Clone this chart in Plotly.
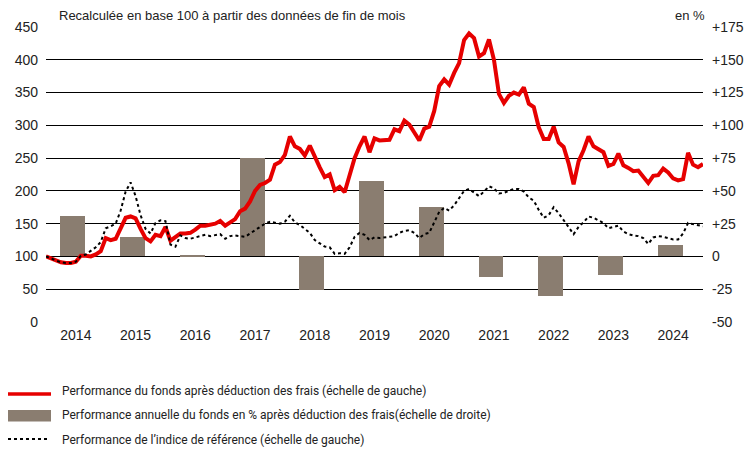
import plotly.graph_objects as go

# ---- data ----
fund = [100, 97, 94, 91, 90, 90, 92, 101, 101, 100, 103, 108,
        128, 125, 127, 144, 159, 161, 158, 142, 128, 123, 133, 131,
        145, 124, 130, 135, 135, 136, 141, 147, 147, 148, 150, 154,
        147, 152, 157, 169, 173, 184, 200, 209, 212, 217, 240, 244,
        255, 283, 268, 264, 254, 269, 251, 236, 221, 225, 201, 206,
        198, 226, 250, 268, 283, 259, 280, 277, 278, 278, 294, 291,
        307, 301, 289, 277, 295, 298, 322, 360, 370, 362, 380, 395,
        430, 440, 433, 405, 410, 431, 400, 348, 334, 345, 350, 347,
        358, 333, 328, 297, 279, 279, 298, 274, 267, 242, 210, 245,
        262, 283, 268, 263, 259, 238, 241, 257, 239, 235, 230, 231,
        222, 212, 223, 224, 234, 228, 219, 216, 218, 258, 240, 236,
        241]

benchmark = [100, 97, 94, 91, 90, 90, 92, 101, 103, 108, 114, 122,
             143, 146, 150, 170, 199, 213, 192, 163, 142, 135, 151, 155,
             154, 118, 115, 132, 128, 127, 129, 130, 133, 131, 132, 134,
             127, 131, 132, 131, 130, 135, 140, 146, 150, 153, 152, 150,
             153, 162, 152, 148, 142, 136, 125, 120, 115, 114, 104, 105,
             104, 114, 130, 136, 133, 125, 129, 128, 129, 129, 131, 136,
             139, 140, 136, 128, 134, 136, 151, 168, 174, 170, 178, 190,
             200, 203, 198, 192, 199, 207, 204, 196, 197, 200, 203, 203,
             199, 190, 185, 171, 159, 163, 175, 166, 155, 143, 134, 145,
             152, 161, 159, 155, 151, 143, 145, 147, 138, 134, 132, 131,
             128, 119, 129, 131, 130, 128, 126, 126, 135, 151, 149, 147,
             146]

years = ["2014", "2015", "2016", "2017", "2018", "2019", "2020", "2021",
         "2022", "2023", "2024"]
annual_perf = [30.5, 15, 1.3, 75, -25.7, 57.8, 38, -16, -29.8, -14.5, 9]

left_ticks = [0, 50, 100, 150, 200, 250, 300, 350, 400, 450]
right_ticks = [-50, -25, 0, 25, 50, 75, 100, 125, 150, 175]
right_ticktext = [("+%d" % v) if v > 0 else str(v) for v in right_ticks]

legend_labels = [
    "Performance du fonds après déduction des frais (échelle de gauche)",
    "Performance annuelle du fonds en % après déduction des frais(échelle de droite)",
    "Performance de l\u2019indice de référence (échelle de gauche)",
]
subtitle = "Recalculée en base 100 à partir des données de fin de mois"
unit_label = "en %"

# ---- styling ----
RED = "#e60000"
BAR = "#8a7d70"
TXT = "#222222"
FONT = "Liberation Sans, Arial, sans-serif"
LEGFONT = "Roboto, Liberation Sans, Arial, sans-serif"

W, H = 755, 452
ML, MR, MT, MB = 46, 52, 27, 130
PW, PH = W - ML - MR, H - MT - MB


def px(x):
    return (x - ML) / PW


def py(y):
    return (H - MB - y) / PH


months = list(range(len(fund)))
bar_x = [12 * i + 5.4 for i in range(len(years))]
year_ticks = [12 * i + 6.0 for i in range(len(years))]

fig = go.Figure()
# bars on the primary (right-hand, %) axis so that the lines are drawn above
fig.add_trace(go.Bar(x=bar_x, y=annual_perf, width=5, marker_color=BAR,
                     marker_line_width=0, yaxis="y", showlegend=False))
fig.add_trace(go.Scatter(x=months, y=fund, mode="lines", yaxis="y2",
                         line=dict(color=RED, width=4), showlegend=False))
fig.add_trace(go.Scatter(x=months, y=benchmark, mode="lines", yaxis="y2",
                         line=dict(color="#000000", width=2, dash="dot"),
                         showlegend=False))

fig.update_layout(
    width=W, height=H,
    margin=dict(l=ML, r=MR, t=MT, b=MB),
    paper_bgcolor="white", plot_bgcolor="white",
    font=dict(family=FONT, size=14, color=TXT),
    bargap=0,
    xaxis=dict(range=[0, len(fund) - 1], tickvals=year_ticks, ticktext=years,
               showgrid=False, zeroline=False, showline=False, ticks="",
               tickfont=dict(size=14, color=TXT), ticklabelstandoff=3),
    yaxis=dict(range=[-50, 175], tickvals=right_ticks, ticktext=right_ticktext,
               side="right", showgrid=True, gridcolor="#000000", gridwidth=1,
               zeroline=False, showline=False, ticks="",
               tickfont=dict(size=14, color=TXT), ticklabelstandoff=8),
    yaxis2=dict(range=[0, 450], tickvals=left_ticks, overlaying="y",
                side="left", showgrid=False, zeroline=False, showline=False,
                ticks="", tickfont=dict(size=14, color=TXT),
                ticklabelstandoff=7),
)

# header texts
fig.add_annotation(x=px(57), y=py(16), xref="paper", yref="paper",
                   text=subtitle, showarrow=False, xanchor="left",
                   yanchor="middle", font=dict(size=13, color=TXT))
fig.add_annotation(x=px(707), y=py(16), xref="paper", yref="paper",
                   text=unit_label, showarrow=False, xanchor="right",
                   yanchor="middle", font=dict(size=13, color=TXT))

# custom legend
rows = [391, 415, 440]
fig.add_shape(type="line", xref="paper", yref="paper",
              x0=px(8), x1=px(51), y0=py(394), y1=py(394),
              line=dict(color=RED, width=3.6))
fig.add_shape(type="rect", xref="paper", yref="paper",
              x0=px(8), x1=px(51), y0=py(410), y1=py(421.5),
              fillcolor=BAR, line=dict(width=0))
fig.add_shape(type="line", xref="paper", yref="paper",
              x0=px(8), x1=px(49), y0=py(439), y1=py(439),
              line=dict(color="#000000", width=2, dash="dot"))
for lab, ry in zip(legend_labels, rows):
    fig.add_annotation(x=px(60), y=py(ry), xref="paper", yref="paper",
                       text=lab, showarrow=False, xanchor="left",
                       yanchor="middle", font=dict(family=LEGFONT, size=12,
                                                   color=TXT))

fig.write_html("out.html", config={"displayModeBar": False},
               post_script="document.body.style.margin='0';"
                           "document.body.style.overflow='hidden';")
